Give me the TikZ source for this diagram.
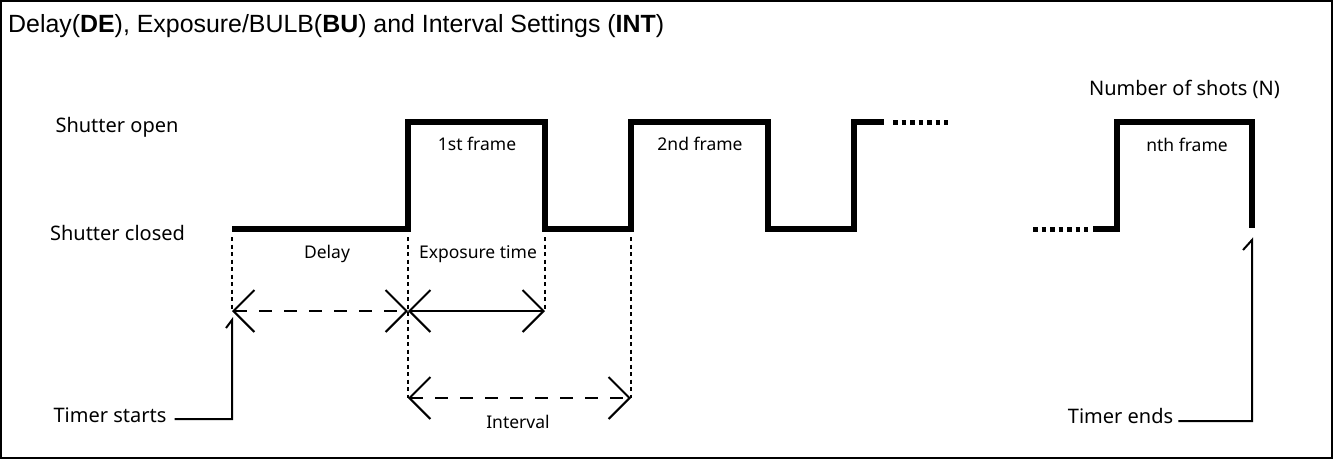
\documentclass[tikz,border=0pt]{standalone}
\usepackage{fontspec}
\setmainfont{Noto Sans}
\newfontfamily\titlefont{Liberation Sans}
\usetikzlibrary{arrows.meta,calc}
\begin{document}
\begin{tikzpicture}[x=1pt,y=-1pt,
  wave/.style={line width=5.5pt, line join=miter},
  contdots/.style={line width=5pt, dash pattern=on 4.5pt off 4pt},
  guide/.style={line width=2.6pt, dash pattern=on 4pt off 3.5pt},
  barb/.tip={Straight Barb[length=21pt,width=42pt,line width=2pt]},
  dimline/.style={line width=1.8pt, barb-barb},
  dimdash/.style={dimline, dash pattern=on 13pt off 12pt},
  timer/.style={line width=2pt, line join=miter},
  biglbl/.style={font=\fontsize{20}{24}\selectfont, inner sep=0pt, anchor=base},
  smalllbl/.style={font=\fontsize{17.5}{21}\selectfont, inner sep=0pt, anchor=base},
]
\useasboundingbox (0,0) rectangle (1333,459);
\draw[line width=2pt] (1,1) rectangle (1332,458);

% title
\node[inner sep=0pt, anchor=base west, font=\titlefont\fontsize{24.9}{28}\selectfont] (title) at (8,32)
  {Delay(\textbf{DE}), Exposure/BULB(\textbf{BU}) and Interval Settings (\textbf{INT})};

% level labels
\node[biglbl] (open) at (117,132) {Shutter open};
\node[biglbl] (closed) at (117.5,240) {Shutter closed};
\node[biglbl] (nshots) at (1184.5,95) {Number of shots (N)};

% key time points
\coordinate (t0) at (232,229);
\coordinate (t1) at (408,229);
\coordinate (t2) at (545,229);
\coordinate (t3) at (631,229);
\coordinate (a0) at (232,311);
\coordinate (a1) at (408,311);
\coordinate (a2) at (545,311);
\coordinate (b1) at (408,398);
\coordinate (b3) at (631,398);

% waveform
\draw[wave] (t0) -- (t1) -- (408,122) -- (545,122) -- (t2) -- (t3) -- (631,122) -- (768,122) -- (768,229) -- (854,229) -- (854,122) -- (884,122);
\draw[contdots] (893,122) -- (948,122);
\draw[contdots] (1033,229) -- (1088,229);
\draw[wave] (1093,229) -- (1117,229) -- (1117,122) -- (1252,122) -- (1252,228);

% frame labels
\node[smalllbl] (f1) at (477,150) {1st frame};
\node[smalllbl] (f2) at (700,150) {2nd frame};
\node[smalllbl] (fn) at (1187,151) {nth frame};

% guides
\draw[guide] ($(t0)+(0,8)$) -- (a0);
\draw[guide] ($(t1)+(0,8)$) -- (b1);
\draw[guide] ($(t2)+(0,8)$) -- (a2);
\draw[guide] ($(t3)+(0,8)$) -- (b3);

% dimension labels
\node[smalllbl] (ldelay) at (327,258) {Delay};
\node[smalllbl] (lexp) at (478,258) {Exposure time};
\node[smalllbl] (lint) at (518,428) {Interval};

% dimension arrows
\draw[dimdash] (a0) -- (a1);
\draw[dimline] (a1) -- (a2);
\draw[dimdash] (b1) -- (b3);

% timer
\node[biglbl] (tstart) at (110,422) {Timer starts};
\node[biglbl] (tend) at (1120.5,423) {Timer ends};
\draw[timer] ($(tstart.base east)+(8,-3)$) -- (232,419) -- ($(a0)+(0,9)$) -- ++(-6,8);
\draw[timer] ($(tend.base east)+(5,-2)$) -- (1252,421) -- (1252,240) -- ++(-9,10);
\end{tikzpicture}
\end{document}
